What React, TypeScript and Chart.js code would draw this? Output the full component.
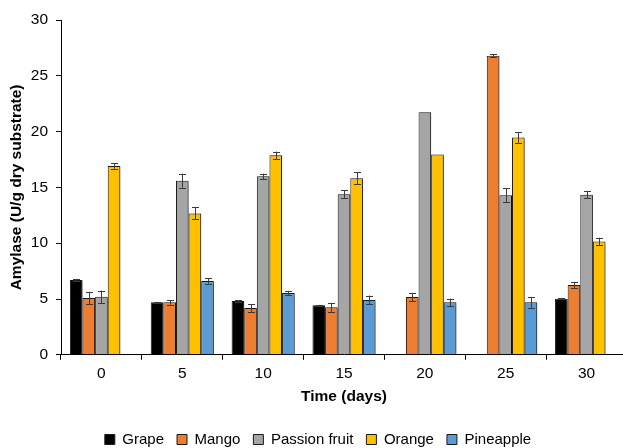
import React, { useEffect, useRef } from "react";
import { Chart, registerables } from "chart.js";

Chart.register(...registerables);

// Sampling days
const days = ["0", "5", "10", "15", "20", "25", "30"];

// Amylase activity (U/g dry substrate) per fruit residue
const grape = [6.7, 4.7, 4.82, 4.43, null, null, 5.03];
const mango = [5.1, 4.7, 4.19, 4.25, 5.18, 26.8, 6.26];
const passionFruit = [5.2, 15.6, 15.99, 14.38, 21.74, 14.29, 14.35];
const orange = [16.92, 12.67, 17.88, 15.81, 17.94, 19.47, 10.15];
const pineapple = [null, 6.62, 5.54, 4.91, 4.7, 4.7, null];

// Standard deviations
const grapeErr = [0.05, 0.05, 0.05, 0.05, null, null, 0.05];
const mangoErr = [0.54, 0.2, 0.34, 0.4, 0.36, 0.12, 0.27];
const passionFruitErr = [0.55, 0.63, 0.24, 0.36, 0, 0.63, 0.33];
const orangeErr = [0.24, 0.54, 0.33, 0.55, 0, 0.48, 0.34];
const pineappleErr = [null, 0.25, 0.19, 0.4, 0.33, 0.49, null];

const yTicks = [0, 5, 10, 15, 20, 25, 30];

const FONT = "'Liberation Sans', Arial, Helvetica, sans-serif";

const errorsByDataset = [grapeErr, mangoErr, passionFruitErr, orangeErr, pineappleErr];

const barShadowAndErrors = {
  id: "barShadowAndErrors",
  beforeDatasetsDraw(chart: any) {
    const ctx = chart.ctx;
    ctx.save();
    ctx.shadowColor = "rgba(0,0,0,0.35)";
    ctx.shadowOffsetX = 2;
    ctx.shadowOffsetY = 1;
    ctx.shadowBlur = 2;
  },
  afterDatasetsDraw(chart: any) {
    const ctx = chart.ctx;
    ctx.restore();
    const yScale = chart.scales.y;
    ctx.save();
    ctx.strokeStyle = "#3a3a3a";
    ctx.lineWidth = 1;
    chart.data.datasets.forEach((ds: any, di: number) => {
      const meta = chart.getDatasetMeta(di);
      const errs = errorsByDataset[di];
      meta.data.forEach((bar: any, i: number) => {
        const v = ds.data[i];
        const e = errs[i];
        if (v == null || e == null || e <= 0) return;
        const x = Math.round(bar.x) + 0.5;
        const yTop = yScale.getPixelForValue(v + e);
        const yBot = yScale.getPixelForValue(v - e);
        const cap = 3.5;
        ctx.beginPath();
        ctx.moveTo(x, yTop);
        ctx.lineTo(x, yBot);
        ctx.moveTo(x - cap, Math.round(yTop) + 0.5);
        ctx.lineTo(x + cap, Math.round(yTop) + 0.5);
        ctx.moveTo(x - cap, Math.round(yBot) + 0.5);
        ctx.lineTo(x + cap, Math.round(yBot) + 0.5);
        ctx.stroke();
      });
    });
    ctx.restore();
  },
};

export default function App() {
  const canvasRef = useRef<HTMLCanvasElement | null>(null);

  useEffect(() => {
    document.body.style.margin = "0";
    const canvas = canvasRef.current;
    if (!canvas) return;

    const mk = (label: string, data: (number | null)[], color: string) => ({
      label,
      data,
      backgroundColor: color,
      borderColor: "#1a1a1a",
      borderWidth: 1,
      categoryPercentage: 0.78,
      barPercentage: 1,
    });

    const chart = new Chart(canvas, {
      type: "bar",
      data: {
        labels: days,
        datasets: [
          mk("Grape", grape, "#000000"),
          mk("Mango", mango, "#ED7D31"),
          mk("Passion fruit", passionFruit, "#A5A5A5"),
          mk("Orange", orange, "#FFC000"),
          mk("Pineapple", pineapple, "#5B9BD5"),
        ],
      },
      options: {
        animation: false,
        responsive: false,
        devicePixelRatio: 1,
        layout: { padding: { top: 20, right: 5, left: 9, bottom: 0 } },
        plugins: {
          tooltip: { enabled: false },
          legend: {
            position: "bottom",
            labels: {
              boxWidth: 10,
              boxHeight: 10,
              padding: 13,
              color: "#000",
              font: { family: FONT, size: 15 },
            },
          },
        },
        scales: {
          x: {
            offset: true,
            grid: {
              display: true,
              drawOnChartArea: false,
              drawTicks: true,
              tickLength: 5,
              color: "#000",
              offset: true,
            },
            border: { display: true, color: "#000", width: 1 },
            ticks: {
              color: "#000",
              padding: 5,
              font: { family: FONT, size: 15.5 },
            },
            title: {
              display: true,
              text: "Time (days)",
              color: "#000",
              font: { family: FONT, size: 15.5, weight: "bold" },
              padding: { top: -1, bottom: 13 },
            },
          },
          y: {
            min: 0,
            max: 30,
            afterFit(scale: any) {
              scale.width = 52;
            },
            afterBuildTicks(scale: any) {
              scale.ticks = yTicks.map((v) => ({ value: v }));
            },
            grid: {
              display: true,
              drawOnChartArea: false,
              drawTicks: true,
              tickLength: 5,
              color: "#000",
            },
            border: { display: true, color: "#000", width: 1 },
            ticks: {
              color: "#000",
              padding: 8,
              font: { family: FONT, size: 15.5 },
            },
            title: {
              display: true,
              text: "Amylase (U/g dry substrate)",
              color: "#000",
              font: { family: FONT, size: 15.5, weight: "bold" },
              padding: { top: -2, bottom: 0 },
            },
          },
        },
      },
      plugins: [barShadowAndErrors],
    });

    return () => chart.destroy();
  }, []);

  return (
    <div
      style={{
        position: "fixed",
        left: 0,
        top: 0,
        width: 623,
        height: 448,
        overflow: "hidden",
        background: "#fff",
      }}
    >
      <canvas ref={canvasRef} width={632} height={457} style={{ display: "block" }} />
    </div>
  );
}
